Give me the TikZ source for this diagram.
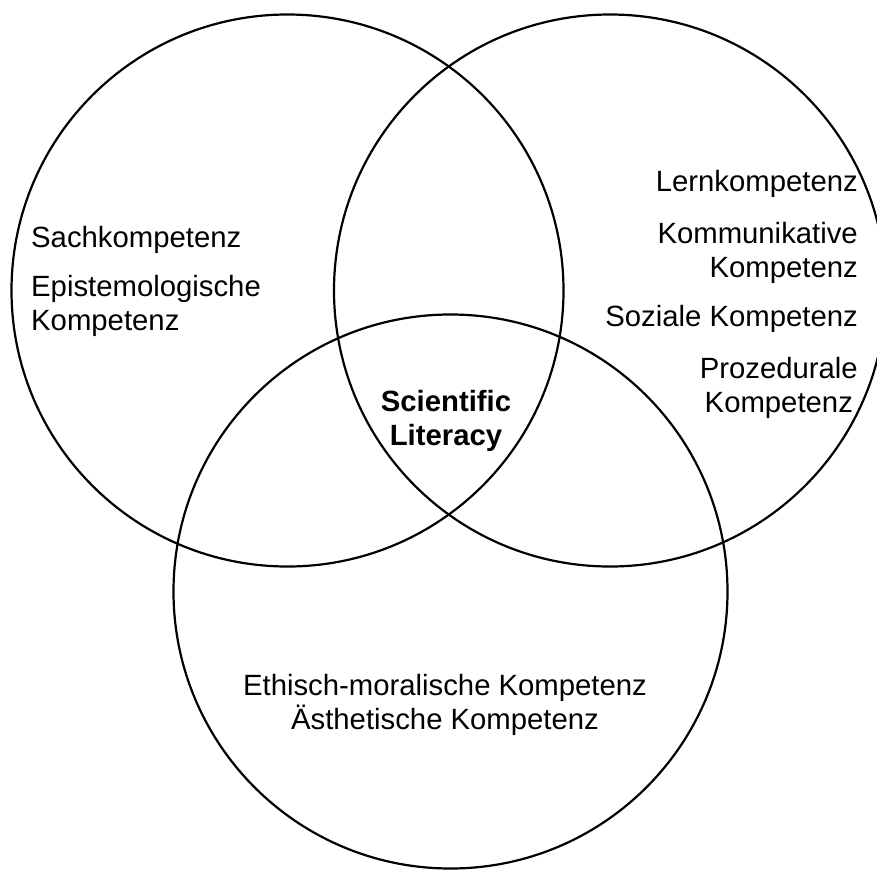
\documentclass[tikz,border=0pt]{standalone}
\usepackage{fontspec}
\setmainfont{Liberation Sans}
\begin{document}
\begin{tikzpicture}[x=1pt,y=-1pt,
  ring/.style={draw=black, line width=2.2pt},
  lbl/.style={inner sep=0pt, font=\fontsize{29.3}{34}\selectfont},
  boldlbl/.style={inner sep=0pt, font=\fontsize{29.3}{34}\selectfont\bfseries}]
\useasboundingbox[fill=white] (0,0) rectangle (877,870);
\draw[ring] (287.5,290.5) circle[radius=276pt];
\draw[ring] (610,290.5) circle[radius=276pt];
\draw[ring] (450.5,591.5) circle[radius=277pt];
\node[lbl, anchor=base west] (sach) at (31,247) {Sachkompetenz};
\node[lbl, anchor=base west, align=left] (epi) at (31,330) {Epistemologische\\Kompetenz};
\node[lbl, anchor=base east] (lern) at (858,191) {Lernkompetenz};
\node[lbl, anchor=base east, align=right] (komm) at (858,277) {Kommunikative\\Kompetenz};
\node[lbl, anchor=base east] (soz) at (858,326) {Soziale Kompetenz};
\node[lbl, anchor=base east, align=center] (proz) at (858,412) {Prozedurale\\Kompetenz};
\node[boldlbl, anchor=base, align=center] (sl) at (446,445) {Scientific\\Literacy};
\node[lbl, anchor=base, align=center] (eth) at (445,729) {Ethisch-moralische Kompetenz\\Ästhetische Kompetenz};
\end{tikzpicture}
\end{document}
